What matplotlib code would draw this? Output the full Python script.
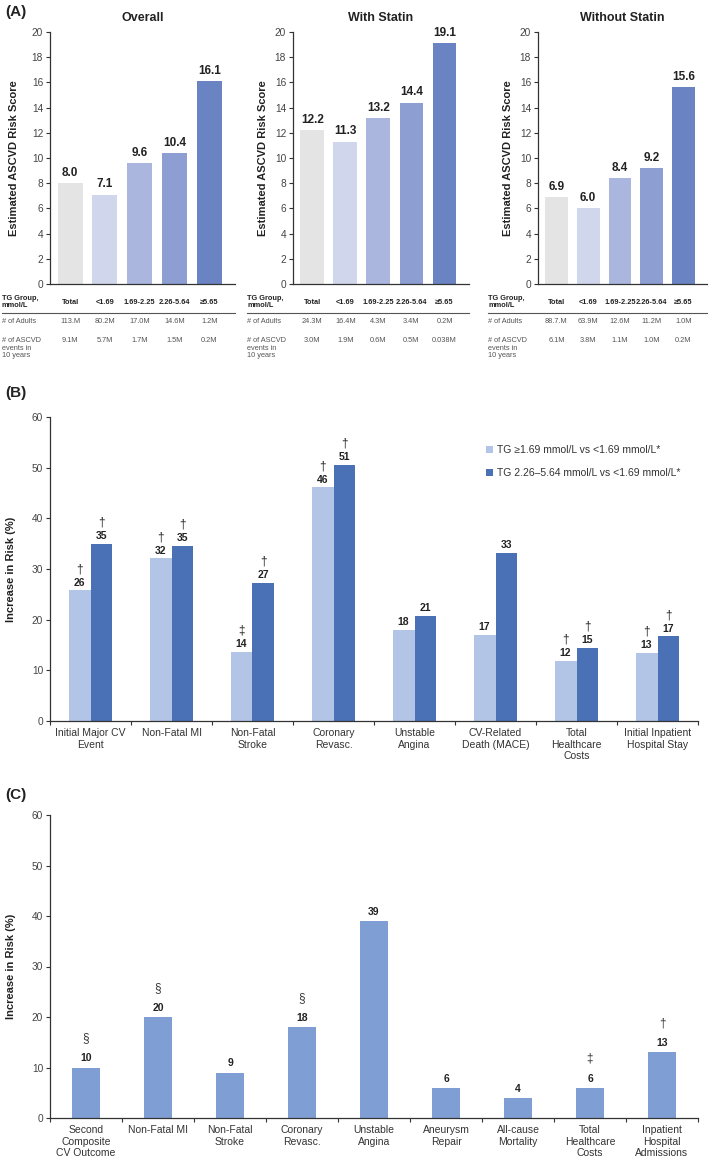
import matplotlib
matplotlib.use("Agg")
import matplotlib.pyplot as plt
import matplotlib.transforms as mtransforms
from matplotlib.lines import Line2D

plt.rcParams['font.family'] = ['Liberation Sans', 'DejaVu Sans']

W, H = 709, 1165

# ---------------- Data ----------------
tg_groups = ["Total", "<1.69", "1.69-2.25", "2.26-5.64", "\u22655.65"]
a_titles = ["Overall", "With Statin", "Without Statin"]
a_scores = [
    [8.0, 7.1, 9.6, 10.4, 16.1],
    [12.2, 11.3, 13.2, 14.4, 19.1],
    [6.9, 6.0, 8.4, 9.2, 15.6],
]
a_adults = [
    ["113.M", "80.2M", "17.0M", "14.6M", "1.2M"],
    ["24.3M", "16.4M", "4.3M", "3.4M", "0.2M"],
    ["88.7.M", "63.9M", "12.6M", "11.2M", "1.0M"],
]
a_events = [
    ["9.1M", "5.7M", "1.7M", "1.5M", "0.2M"],
    ["3.0M", "1.9M", "0.6M", "0.5M", "0.038M"],
    ["6.1M", "3.8M", "1.1M", "1.0M", "0.2M"],
]
a_colors = ["#e4e4e4", "#d0d6ec", "#aab6de", "#8c9ed2", "#6a83c2"]

b_categories = ["Initial Major CV\nEvent", "Non-Fatal MI", "Non-Fatal\nStroke",
                "Coronary\nRevasc.", "Unstable\nAngina", "CV-Related\nDeath (MACE)",
                "Total\nHealthcare\nCosts", "Initial Inpatient\nHospital Stay"]
b_series1 = [26, 32, 14, 46, 18, 17, 12, 13]
b_series2 = [35, 35, 27, 51, 21, 33, 15, 17]
b_plot1 = [25.8, 32.1, 13.7, 46.1, 18.0, 17.0, 11.9, 13.4]
b_plot2 = [34.9, 34.5, 27.3, 50.6, 20.8, 33.2, 14.5, 16.7]
b_marks1 = ["\u2020", "\u2020", "\u2021", "\u2020", "", "", "\u2020", "\u2020"]
b_marks2 = ["\u2020", "\u2020", "\u2020", "\u2020", "", "", "\u2020", "\u2020"]
b_legend = ["TG \u22651.69 mmol/L vs <1.69 mmol/L*", "TG 2.26\u20135.64 mmol/L vs <1.69 mmol/L*"]

c_categories = ["Second\nComposite\nCV Outcome", "Non-Fatal MI", "Non-Fatal\nStroke",
                "Coronary\nRevasc.", "Unstable\nAngina", "Aneurysm\nRepair",
                "All-cause\nMortality", "Total\nHealthcare\nCosts",
                "Inpatient\nHospital\nAdmissions"]
c_values = [10, 20, 9, 18, 39, 6, 4, 6, 13]
c_marks = ["\u00a7", "\u00a7", "", "\u00a7", "", "", "", "\u2021", "\u2020"]

TXT = "#222222"
GREY = "#444444"


def ax_rect(l, r, t, b):
    return [l / W, 1 - b / H, (r - l) / W, (b - t) / H]


fig = plt.figure(figsize=(W / 100, H / 100), dpi=100)


def style_axes(ax):
    for s in ["top", "right"]:
        ax.spines[s].set_visible(False)
    for s in ["left", "bottom"]:
        ax.spines[s].set_color("#333333")
        ax.spines[s].set_linewidth(0.9)
    ax.tick_params(axis="y", direction="out", length=3, width=0.8, colors="#333333",
                   labelsize=7.3, labelcolor=GREY, pad=2)


# ---------------- Panel A ----------------
a_rects = [(50, 235), (293, 469), (538, 707)]
a_label_x = [2, 247, 488]
a_ylabel_x = [19, 268, 513]
fig.text(5 / W, 1 - 12 / H, "(A)", fontsize=11, fontweight="bold", color=TXT, va="center")
for i in range(3):
    l, r = a_rects[i]
    ax = fig.add_axes(ax_rect(l, r, 32, 284))
    style_axes(ax)
    xs = list(range(len(tg_groups)))
    ax.bar(xs, a_scores[i], width=0.72, color=a_colors, edgecolor="none")
    for x, v in zip(xs, a_scores[i]):
        ax.annotate(f"{v:.1f}", (x, v), xytext=(0, 3), textcoords="offset points",
                    ha="center", va="bottom", fontsize=8.5, fontweight="bold", color=TXT)
    ax.set_ylim(0, 20)
    ax.set_yticks(range(0, 21, 2))
    ax.set_xlim(-0.58, 4.74)
    ax.set_xticks([])
    ax.set_ylabel("Estimated ASCVD Risk Score", fontsize=8, fontweight="bold", color=TXT)
    ax.yaxis.set_label_coords((a_ylabel_x[i] - l) / (r - l), 0.5)
    fig.text((l + r) / 2 / W, 1 - 18 / H, a_titles[i], fontsize=9, fontweight="bold",
             color=TXT, ha="center", va="center")
    # table
    tr = mtransforms.blended_transform_factory(ax.transData, fig.transFigure)
    lx = a_label_x[i] / W
    fig.text(lx, 1 - 302 / H, "TG Group,\nmmol/L", fontsize=5.3, fontweight="bold",
             color=TXT, va="center", ha="left", linespacing=1.1)
    for x, g, ad, ev in zip(xs, tg_groups, a_adults[i], a_events[i]):
        ax.text(x, 1 - 302 / H, g, transform=tr, fontsize=5.3, fontweight="bold",
                color=TXT, ha="center", va="center", clip_on=False)
        ax.text(x, 1 - 321 / H, ad, transform=tr, fontsize=5.3, color="#555555",
                ha="center", va="center", clip_on=False)
        ax.text(x, 1 - 341 / H, ev, transform=tr, fontsize=5.3, color="#555555",
                ha="center", va="center", clip_on=False)
    fig.add_artist(Line2D([lx, r / W], [1 - 312.5 / H, 1 - 312.5 / H],
                          transform=fig.transFigure, color="#555555", lw=0.8))
    fig.text(lx, 1 - 321 / H, "# of Adults", fontsize=5.3, color="#555555",
             va="center", ha="left")
    fig.text(lx, 1 - 337 / H, "# of ASCVD\nevents in\n10 years", fontsize=5.3,
             color="#555555", va="top", ha="left", linespacing=1.15)

# ---------------- Panel B ----------------
fig.text(5 / W, 1 - 393 / H, "(B)", fontsize=11, fontweight="bold", color=TXT, va="center")
axb = fig.add_axes(ax_rect(50, 698, 417, 721))
style_axes(axb)
c1, c2 = "#b3c5e6", "#4a70b6"
bw = 0.27
xb = list(range(len(b_categories)))
axb.bar([x - bw / 2 for x in xb], b_plot1, width=bw, color=c1, edgecolor="none", label=b_legend[0])
axb.bar([x + bw / 2 for x in xb], b_plot2, width=bw, color=c2, edgecolor="none", label=b_legend[1])
for x, v, pv, m in zip(xb, b_series1, b_plot1, b_marks1):
    axb.annotate(str(v), (x - bw / 2, pv), xytext=(0, 2), textcoords="offset points",
                 ha="center", va="bottom", fontsize=7.5, fontweight="bold", color=TXT)
    if m:
        axb.annotate(m, (x - bw / 2, pv), xytext=(0, 11), textcoords="offset points",
                     ha="center", va="bottom", fontsize=8.5, color=TXT)
for x, v, pv, m in zip(xb, b_series2, b_plot2, b_marks2):
    axb.annotate(str(v), (x + bw / 2, pv), xytext=(0, 2), textcoords="offset points",
                 ha="center", va="bottom", fontsize=7.5, fontweight="bold", color=TXT)
    if m:
        axb.annotate(m, (x + bw / 2, pv), xytext=(0, 11), textcoords="offset points",
                     ha="center", va="bottom", fontsize=8.5, color=TXT)
axb.set_xlim(-0.5, len(b_categories) - 0.5)
axb.set_ylim(0, 60)
axb.set_yticks(range(0, 61, 10))
axb.set_xticks([x - 0.5 for x in range(len(b_categories) + 1)])
axb.set_xticklabels([])
axb.set_xticks(xb, minor=True)
axb.set_xticklabels(b_categories, minor=True)
axb.tick_params(axis="x", which="major", direction="out", length=3, width=0.8, colors="#333333")
axb.tick_params(axis="x", which="minor", length=0, labelsize=7.5, labelcolor="#333333", pad=5)
axb.set_ylabel("Increase in Risk (%)", fontsize=8, fontweight="bold", color=TXT)
axb.yaxis.set_label_coords((16 - 50) / 648, 0.5)
leg = axb.legend(loc="upper left", bbox_to_anchor=((486 - 50) / 648, (721 - 445) / 304),
                 frameon=False, fontsize=7.5, handlelength=0.7, handleheight=0.7,
                 handletextpad=0.35, labelspacing=1.25, borderaxespad=0, borderpad=0)
for t in leg.get_texts():
    t.set_color("#333333")

# ---------------- Panel C ----------------
fig.text(5 / W, 1 - 795 / H, "(C)", fontsize=11, fontweight="bold", color=TXT, va="center")
axc = fig.add_axes(ax_rect(50, 698, 815, 1118))
style_axes(axc)
xc = list(range(len(c_categories)))
axc.bar(xc, c_values, width=0.39, color="#7f9fd4", edgecolor="none")
for x, v, m in zip(xc, c_values, c_marks):
    axc.annotate(str(v), (x, v), xytext=(0, 3), textcoords="offset points",
                 ha="center", va="bottom", fontsize=7.5, fontweight="bold", color=TXT)
    if m:
        axc.annotate(m, (x, v), xytext=(0, 16.5), textcoords="offset points",
                     ha="center", va="bottom", fontsize=8.5, color="#333333")
axc.set_xlim(-0.5, len(c_categories) - 0.5)
axc.set_ylim(0, 60)
axc.set_yticks(range(0, 61, 10))
axc.set_xticks([x - 0.5 for x in range(len(c_categories) + 1)])
axc.set_xticklabels([])
axc.set_xticks(xc, minor=True)
axc.set_xticklabels(c_categories, minor=True)
axc.tick_params(axis="x", which="major", direction="out", length=3, width=0.8, colors="#333333")
axc.tick_params(axis="x", which="minor", length=0, labelsize=7.5, labelcolor="#333333", pad=5)
axc.set_ylabel("Increase in Risk (%)", fontsize=8, fontweight="bold", color=TXT)
axc.yaxis.set_label_coords((16 - 50) / 648, 0.5)

fig.savefig("out.png", dpi=100)
